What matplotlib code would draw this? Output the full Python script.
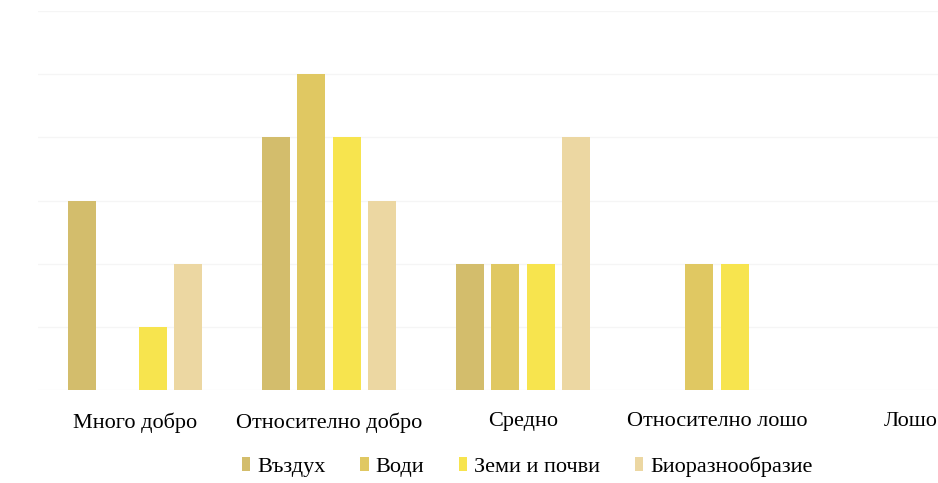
import numpy as np
import matplotlib.pyplot as plt

categories = ['Много добро', 'Относително добро', 'Средно', 'Относително лошо', 'Лошо']
series_names = ['Въздух', 'Води', 'Земи и почви', 'Биоразнообразие']
vazduh = [3, 4, 2, 0, 0]
vodi = [0, 5, 2, 2, 0]
zemi = [1, 4, 2, 2, 0]
bio = [2, 3, 4, 0, 0]
colors = ['#d3bd6c', '#e0c862', '#f7e44e', '#ecd7a2']

plt.rcParams['font.family'] = ['Liberation Serif', 'DejaVu Serif']

fig = plt.figure(figsize=(9.38, 4.83), dpi=100)
# the chart is cut off on the right in the original, so the axes run past the figure edge
ax = fig.add_axes([38 / 938, (483 - 390) / 483, 970 / 938, (390 - 11) / 483])

x = np.arange(len(categories))
step = 0.183
width = 0.145
data = [vazduh, vodi, zemi, bio]
for i, vals in enumerate(data):
    ax.bar(x + (i - 1.5) * step, vals, width, color=colors[i], label=series_names[i], zorder=2)

ax.set_xlim(-0.5, len(categories) - 0.5)
ax.set_ylim(0, 6)
ax.set_yticks(range(0, 7))
ax.yaxis.grid(True, color='#f5f5f5', linewidth=1, zorder=0)
ax.tick_params(axis='y', left=False, labelleft=False)
ax.tick_params(axis='x', length=0, pad=16, labelsize=16)
ax.set_xticks(x)
ax.set_xticklabels(categories)
for s in ax.spines.values():
    s.set_visible(False)

fig.legend(loc='center', bbox_to_anchor=(527 / 938, 1 - 467 / 483), ncol=4, frameon=False,
           fontsize=16, handlelength=0.4, handleheight=0.6, handletextpad=0.3, columnspacing=1.55)

fig.savefig('out.png', dpi=100)
